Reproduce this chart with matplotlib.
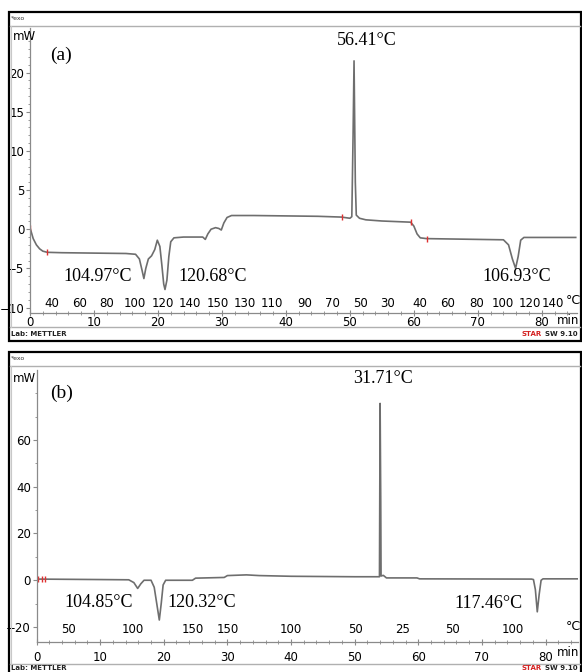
import matplotlib.pyplot as plt
from matplotlib.patches import Rectangle
from matplotlib.lines import Line2D

W, H = 582, 672

# ---- panel (a) : heat flow vs time ----
time_a = [0, 0.5, 1.0, 1.5, 2.0, 2.7, 5, 10, 15, 16.5, 17.1, 17.5, 17.8, 18.1, 18.5,
          19.0, 19.5, 19.9, 20.3, 20.6, 20.9, 21.1, 21.4, 21.7, 22.0, 22.5, 24, 27,
          27.4, 27.8, 28.3, 29.0, 29.5, 29.9, 30.3, 30.8, 31.5, 35, 40, 45, 48.7,
          50.0, 50.3, 50.5, 50.65, 50.85, 51.0, 51.5, 52.5, 55, 58, 59.5, 60.0, 60.5,
          61.0, 62, 66, 70, 74, 74.8, 75.4, 75.9, 76.3, 76.7, 77.2, 80, 85.3]
flow_a = [0.2, -1.2, -2.0, -2.5, -2.8, -2.95, -3.0, -3.05, -3.1, -3.2, -3.8, -5.2, -6.3,
          -5.0, -3.8, -3.4, -2.6, -1.4, -2.2, -4.5, -7.0, -7.7, -6.5, -3.5, -1.6, -1.1,
          -1.0, -1.0, -1.3, -0.6, 0.0, 0.2, 0.1, -0.1, 0.8, 1.5, 1.75, 1.75, 1.7, 1.65,
          1.55, 1.4, 1.6, 12, 21.5, 6, 1.8, 1.4, 1.2, 1.05, 0.95, 0.9, 0.4, -0.6, -1.1,
          -1.2, -1.25, -1.3, -1.35, -2.0, -3.8, -5.0, -3.5, -1.4, -1.05, -1.05, -1.05]
marks_t_a = [0, 2.7, 48.7, 59.5, 62]
marks_v_a = [0.2, -2.95, 1.55, 0.9, -1.2]
temp_lbl_a = ['40', '60', '80', '100', '120', '140', '150', '130', '110', '90', '70',
              '50', '30', '40', '60', '80', '100', '120', '140']
temp_pos_a = [3.4, 7.8, 12.0, 16.4, 20.8, 25.0, 29.4, 33.6, 37.8, 43.0, 47.2, 51.6,
              55.9, 60.9, 65.3, 69.8, 73.9, 78.1, 81.7]
peak_lbl_a = ['104.97°C', '120.68°C', '56.41°C', '106.93°C']
peak_pos_a = [(10.6, -6.1), (28.6, -6.1), (52.7, 24.1), (76.1, -6.1)]

# ---- panel (b) ----
time_b = [0, 10, 14.5, 15.3, 15.9, 16.4, 16.9, 18.0, 18.5, 18.9, 19.3, 19.6, 19.9, 20.3,
          24.5, 25.0, 29.5, 30.0, 33, 35, 40, 50, 53.9, 54.0, 54.1, 54.15, 54.5, 55,
          59.8, 60.2, 77.8, 78.1, 78.4, 78.7, 79.0, 79.3, 79.6, 85.1]
flow_b = [0.5, 0.3, 0.2, -1.0, -3.5, -1.5, 0.0, 0.0, -3, -10, -17, -10, -2, 0.0,
          0.0, 0.9, 1.2, 2.0, 2.3, 2.0, 1.7, 1.5, 1.5, 75.6, 34, 1.8, 2.1, 1.0,
          1.0, 0.6, 0.5, 0.3, -4, -13.5, -6, 0.0, 0.6, 0.6]
marks_t_b = [0.3, 0.9, 1.4]
marks_v_b = [0.5, 0.5, 0.5]
temp_lbl_b = ['50', '100', '150', '150', '100', '50', '25', '50', '100']
temp_pos_b = [5.0, 15.2, 24.6, 30.0, 39.9, 50.1, 57.6, 65.3, 74.9]
peak_lbl_b = ['104.85°C', '120.32°C', '31.71°C', '117.46°C']
peak_pos_b = [(9.7, -9.4), (25.9, -9.4), (54.5, 86.3), (71.0, -9.8)]

TICKF = ['Liberation Sans Narrow', 'DejaVu Sans']
SERIF = 'Liberation Serif'
GRAY = '#8a8a8a'
LINE = '#6e6e6e'


def fx(x):
    return x / W


def fy(y):
    return 1 - y / H


fig = plt.figure(figsize=(W / 100, H / 100), dpi=100)


def frame(top, bottom, sep_top, sep_bottom, foot_y):
    # black outer box with the grey inner rules of the METTLER printout
    fig.add_artist(Rectangle((fx(9), fy(bottom)), fx(572), (bottom - top) / H,
                             transform=fig.transFigure, fill=False, lw=1.6, ec='black'))
    for yy in (sep_top, sep_bottom):
        fig.add_artist(Line2D([fx(10), fx(580)], [fy(yy), fy(yy)], transform=fig.transFigure,
                              color='#b0b0b0', lw=1.0))
    fig.add_artist(Line2D([fx(11), fx(11)], [fy(sep_top), fy(sep_bottom)],
                          transform=fig.transFigure, color='#c8c8c8', lw=0.8))
    fig.text(fx(11), fy(top + 7), '*exo', fontsize=4.5, va='center', ha='left',
             family='DejaVu Sans', color='#333')
    fig.text(fx(11), fy(foot_y), 'Lab: METTLER', fontsize=5.0, va='center',
             ha='left', family='DejaVu Sans', color='#222', weight='bold')
    fig.text(fx(521), fy(foot_y), 'STAR', fontsize=5.0, va='center', ha='left',
             family='DejaVu Sans', color='#d42020', weight='bold')
    fig.text(fx(545), fy(foot_y), 'SW 9.10', fontsize=5.0, va='center', ha='left',
             family='DejaVu Sans', color='#222', weight='bold')


def panel(rect, t, v, mt, mv, tl, tp, pl, pp, xlim, ylim, ymaj, ymin, tag, tagpos,
          tempy, unit_y, min_y):
    ax = fig.add_axes(rect)
    ax.plot(t, v, color=LINE, lw=1.2, solid_joinstyle='round')
    ax.plot(mt, mv, ls='none', marker='|', ms=5, mew=1.0, color='#e03030')
    ax.set_xlim(*xlim)
    ax.set_ylim(*ylim)
    for s in ('top', 'right'):
        ax.spines[s].set_visible(False)
    for s in ('left', 'bottom'):
        ax.spines[s].set_color(GRAY)
        ax.spines[s].set_linewidth(0.9)
    ax.set_xticks(range(0, 90, 10))
    ax.set_xticks(range(0, 86, 2), minor=True)
    ax.set_yticks(ymaj)
    ax.set_yticks(ymin, minor=True)
    ax.tick_params(axis='x', which='major', direction='inout', length=5, color=GRAY,
                   pad=0, labelsize=8.5)
    ax.tick_params(axis='x', which='minor', direction='inout', length=3, color=GRAY)
    ax.tick_params(axis='y', which='major', direction='out', length=3, color=GRAY,
                   pad=1, labelsize=8.5)
    ax.tick_params(axis='y', which='minor', direction='out', length=1.5, color=GRAY)
    ax.set_xticklabels([str(i) if i <= 80 else '' for i in range(0, 90, 10)])
    for lab in ax.get_xticklabels() + ax.get_yticklabels():
        lab.set_family(TICKF)
    for lbl, pos in zip(tl, tp):
        ax.text(pos, tempy, lbl, transform=ax.get_xaxis_transform(), ha='center',
                va='bottom', fontsize=8.5, family=TICKF)
    for lbl, (px_, py_) in zip(pl, pp):
        ax.text(px_, py_, lbl, ha='center', va='center', fontsize=13, family=SERIF)
    ax.text(tagpos[0], tagpos[1], tag, ha='center', va='center', fontsize=14, family=SERIF)
    fig.text(fx(566), fy(unit_y), '°C', fontsize=9, family=TICKF, ha='left', va='center')
    fig.text(fx(579), fy(min_y), 'min', fontsize=8.5, family=TICKF, ha='right', va='center')
    return ax


# panel (a)
frame(12, 341, 26, 327, 334)
ax_a = panel([fx(30), fy(313), (577 - 30) / W, (313 - 28) / H],
             time_a, flow_a, marks_t_a, marks_v_a, temp_lbl_a, temp_pos_a,
             peak_lbl_a, peak_pos_a, (0, 85.5), (-10.7, 25.7),
             [-10, -5, 0, 5, 10, 15, 20], [i for i in range(-10, 26)],
             '(a)', (4.8, 22.2), 0.012, 300, 321)
fig.text(fx(13), fy(36), 'mW', fontsize=8.5, family=TICKF, ha='left', va='center')

# panel (b)
frame(352, 700, 366, 664, 668)
ax_b = panel([fx(36.5), fy(642), (578 - 36.5) / W, (642 - 370) / H],
             time_b, flow_b, marks_t_b, marks_v_b, temp_lbl_b, temp_pos_b,
             peak_lbl_b, peak_pos_b, (0, 85.1), (-26.4, 89.9),
             [-20, 0, 20, 40, 60], [i for i in range(-20, 90, 10)],
             '(b)', (3.9, 79.9), 0.022, 627, 653)
ax_b.tick_params(axis='x', which='major', pad=4)
fig.text(fx(13), fy(378), 'mW', fontsize=8.5, family=TICKF, ha='left', va='center')

fig.savefig('out.png', dpi=100, facecolor='white')
